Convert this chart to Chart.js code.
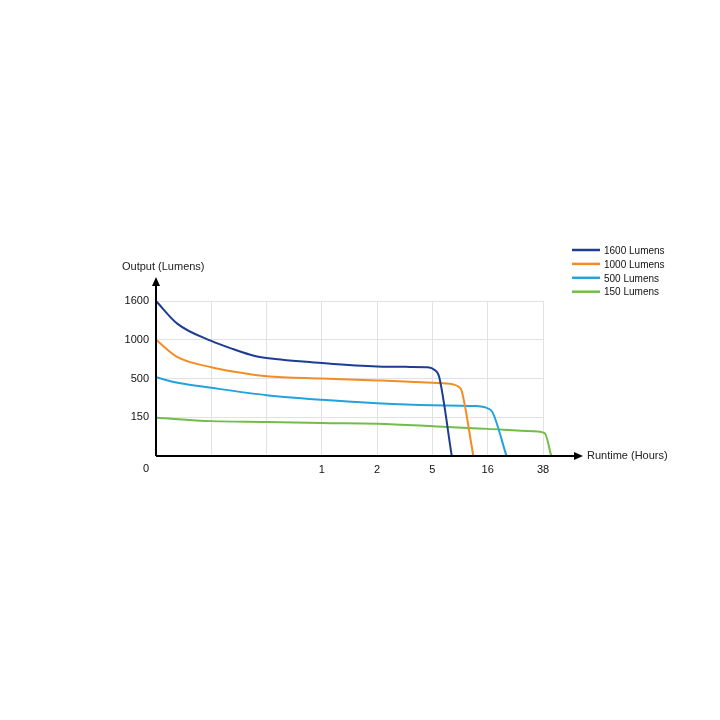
<!DOCTYPE html>
<html>
<head>
<meta charset="utf-8">
<script src="https://cdn.jsdelivr.net/npm/chart.js@4.4.1/dist/chart.umd.min.js"></script>
<style>
  body { margin: 0; background: #fff; }
  #wrap { width: 720px; height: 720px; }
</style>
</head>
<body>
<div id="wrap"><canvas id="runtimeChart" width="720" height="720"></canvas></div>
<script>
// x positions are axis slots: 0 .. 7, labelled by xTickLabels
// y positions are axis slots: 0 .. 4, labelled by yTickLabels
const xTickLabels = ['', '', '', '1', '2', '5', '16', '38']
const yTickLabels = ['', '150', '500', '1000', '1600']

const seriesNames = ['1600 Lumens', '1000 Lumens', '500 Lumens', '150 Lumens']
const seriesColors = ['#1d3c94', '#f28d25', '#22a3dc', '#72bd4a']

const x1600 = [0, 0.39, 1, 1.39, 1.79, 2, 3, 4, 4.6, 4.92, 5.04, 5.12, 5.35]
const y1600 = [4, 3.41, 2.97, 2.76, 2.58, 2.53, 2.40, 2.31, 2.30, 2.29, 2.22, 2.05, 0]

const x1000 = [0, 0.39, 1, 1.39, 2, 3, 4, 5, 5.37, 5.48, 5.53, 5.74]
const y1000 = [3, 2.55, 2.29, 2.18, 2.06, 2.0, 1.95, 1.89, 1.85, 1.78, 1.68, 0]

const x500 = [0, 0.39, 1, 2, 3, 4, 5, 5.73, 6.0, 6.09, 6.34]
const y500 = [2.03, 1.89, 1.76, 1.57, 1.45, 1.36, 1.31, 1.29, 1.23, 1.12, 0]

const x150 = [0, 1, 2, 3, 4, 5, 6, 6.82, 7.03, 7.15]
const y150 = [0.99, 0.90, 0.88, 0.85, 0.83, 0.77, 0.70, 0.64, 0.59, 0]

const xs = [x1600, x1000, x500, x150]
const ys = [y1600, y1000, y500, y150]

Chart.defaults.font.family = '"Liberation Sans", Arial, sans-serif'
Chart.defaults.font.size = 11
Chart.defaults.color = '#111'

// axes with arrows, titles, the "0" and the legend
const decorPlugin = {
  id: 'decor',
  afterDraw(chart) {
    const ctx = chart.ctx
    const { left, bottom } = chart.chartArea
    ctx.save()
    ctx.strokeStyle = '#000'
    ctx.fillStyle = '#000'
    ctx.lineWidth = 2
    ctx.beginPath()
    ctx.moveTo(left, bottom)
    ctx.lineTo(575, bottom)
    ctx.moveTo(left, bottom)
    ctx.lineTo(left, 285)
    ctx.stroke()
    ctx.beginPath()
    ctx.moveTo(583, bottom)
    ctx.lineTo(574, bottom - 4)
    ctx.lineTo(574, bottom + 4)
    ctx.closePath()
    ctx.fill()
    ctx.beginPath()
    ctx.moveTo(left, 277)
    ctx.lineTo(left - 4, 286)
    ctx.lineTo(left + 4, 286)
    ctx.closePath()
    ctx.fill()

    ctx.font = '11px "Liberation Sans", Arial, sans-serif'
    ctx.fillStyle = '#222'
    ctx.textBaseline = 'middle'
    ctx.textAlign = 'left'
    ctx.fillText('Output (Lumens)', 122, 267)
    ctx.fillText('Runtime (Hours)', 587, bottom)
    ctx.textAlign = 'center'
    ctx.fillStyle = '#111'
    ctx.fillText('0', 146, 469)

    ctx.font = '10px "Liberation Sans", Arial, sans-serif'
    ctx.textAlign = 'left'
    chart.data.datasets.forEach((ds, i) => {
      const y = 250 + i * 13.9
      ctx.strokeStyle = ds.borderColor
      ctx.lineWidth = 2.5
      ctx.beginPath()
      ctx.moveTo(572, y)
      ctx.lineTo(600, y)
      ctx.stroke()
      ctx.fillStyle = '#111'
      ctx.fillText(ds.label, 604, y + 1)
    })
    ctx.restore()
  }
}

new Chart(
  document.getElementById('runtimeChart'),
  {
    type: 'line',
    data: {
      datasets: seriesNames.map((name, i) => ({
        label: name,
        data: xs[i].map((x, j) => ({ x: x, y: ys[i][j] })),
        borderColor: seriesColors[i],
        borderWidth: 2,
        pointRadius: 0,
        cubicInterpolationMode: 'monotone',
        clip: false,
      }))
    },
    options: {
      responsive: false,
      animation: false,
      layout: { padding: { top: 301, right: 177, left: 0, bottom: 0 } },
      plugins: {
        legend: { display: false },
        tooltip: { enabled: false },
      },
      scales: {
        x: {
          type: 'linear',
          // range set here (not min/max) so points past 7 are still drawn
          afterDataLimits: s => { s.min = 0; s.max = 7 },
          afterFit: s => { s.height = 264 },
          border: { display: false },
          grid: { color: '#e2e2e2', drawTicks: false },
          ticks: {
            stepSize: 1,
            padding: 7,
            maxRotation: 0,
            autoSkip: false,
            callback: v => xTickLabels[v],
          },
        },
        y: {
          type: 'linear',
          min: 0,
          max: 4,
          afterFit: s => { s.width = 156 },
          border: { display: false },
          grid: { color: '#e2e2e2', drawTicks: false },
          ticks: {
            stepSize: 1,
            padding: 7,
            autoSkip: false,
            callback: v => yTickLabels[v],
          },
        },
      },
    },
    plugins: [decorPlugin],
  }
)
</script>
</body>
</html>
